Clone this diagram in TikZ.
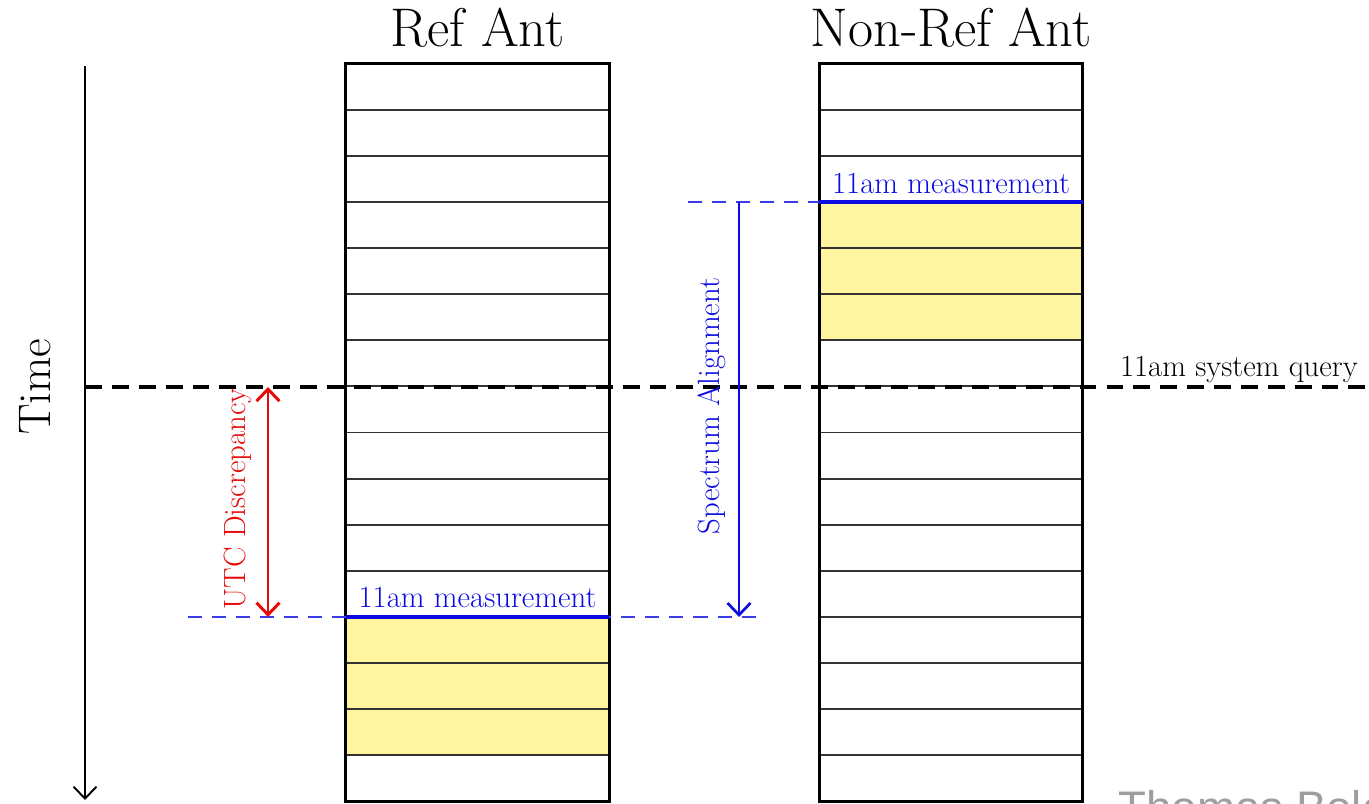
\documentclass[tikz,border=0pt]{standalone}
\usepackage{fontspec}
\newfontfamily\creditfont{Liberation Sans}
\usetikzlibrary{positioning,arrows.meta,calc}
\definecolor{slot}{HTML}{FFF5A0}
\definecolor{measblue}{RGB}{10,10,225}
\definecolor{utcred}{RGB}{230,10,10}

\begin{document}
\begin{tikzpicture}[x=0.02cm,y=-0.02cm,>={Straight Barb[length=2.4mm,width=4.6mm]},
  antcol/.style={minimum width=5.26cm,minimum height=14.74cm,inner sep=0pt},
  frame/.style={line width=1.6pt},
  rowline/.style={line width=1.1pt,black!80},
  title/.style={font=\fontsize{31}{34}\selectfont,inner sep=0pt},
  lbl/.style={font=\fontsize{17.5}{20}\selectfont,inner sep=0pt},
  measline/.style={measblue,line width=2.3pt},
  measguide/.style={measblue!80,line width=0.9pt,dash pattern=on 8pt off 5.7pt}]
\useasboundingbox (0,0) rectangle (1369,804);

% the two antenna columns, 16 slots each
\node[antcol] (ref) at (477.5,432.5) {};
\node[antcol] (nref) at (951,432.5) {};
\node[title,anchor=base] (refttl) at (477.5,47) {Ref Ant};
\node[title,anchor=base] (nrefttl) at (951,47) {Non-Ref Ant};

% slots filled after each 11am measurement
\fill[slot] ($(ref.north west)!12/16!(ref.south west)$) rectangle ($(ref.north east)!15/16!(ref.south east)$);
\fill[slot] ($(nref.north west)!3/16!(nref.south west)$) rectangle ($(nref.north east)!6/16!(nref.south east)$);

\foreach \c in {ref,nref}{
  \foreach \i in {1,...,15}
    \draw[rowline] ($(\c.north west)!\i/16!(\c.south west)$) -- ($(\c.north east)!\i/16!(\c.south east)$);
  \draw[frame] (\c.north west) rectangle (\c.south east);
}

% time axis
\coordinate (t0) at (85,66);
\coordinate (t1) at (85,800);
\draw[->,line width=1.1pt] (t0) -- (t1);
\node[rotate=90,font=\fontsize{26}{28}\selectfont] (time) at (35,387) {Time};

% measurement marks
\coordinate (rm) at ($(ref.north west)!12/16!(ref.south west)$);
\coordinate (nm) at ($(nref.north west)!3/16!(nref.south west)$);
\coordinate (rmg0) at (188,0 |- rm);
\coordinate (rmg1) at (762,0 |- rm);
\coordinate (nmg0) at (688,0 |- nm);
\draw[measguide] (rmg0) -- (rmg1);
\draw[measguide] (nmg0) -- (nm);
\draw[measline] (rm) -- (rm -| ref.east);
\draw[measline] (nm) -- (nm -| nref.east);
\node[lbl,text=measblue,anchor=base] (rmlbl) at ($(rm)!0.5!(rm -| ref.east)+(0,-9)$) {11am measurement};
\node[lbl,text=measblue,anchor=base] (nmlbl) at ($(nm)!0.5!(nm -| nref.east)+(0,-9)$) {11am measurement};

% system query line
\coordinate (q0) at (85,387);
\coordinate (q1) at (1369,387);
\draw[line width=2pt,dash pattern=on 9.6pt off 5.7pt] (q0) -- (q1);
\node[lbl,anchor=base east] (qlbl) at (1358,376) {11am system query};

% offsets
\coordinate (u0) at (268,0 |- q0);
\coordinate (u1) at (268,0 |- rm);
\draw[<->,utcred,line width=1.7pt] (u0) -- (u1);
\node[lbl,text=utcred,rotate=90] (utc) at (238,499) {UTC Discrepancy};
\coordinate (s0) at (739,0 |- nm);
\coordinate (s1) at (739,0 |- rm);
\draw[->,measblue,line width=1.5pt] (s0) -- (s1);
\node[lbl,text=measblue,rotate=90] (align) at (712,406) {Spectrum Alignment};

\node[anchor=base west,inner sep=0pt,text=black!38,font=\creditfont\fontsize{26}{28}\selectfont] (credit) at (1118,823) {Thomas Bolo};
\end{tikzpicture}
\end{document}
